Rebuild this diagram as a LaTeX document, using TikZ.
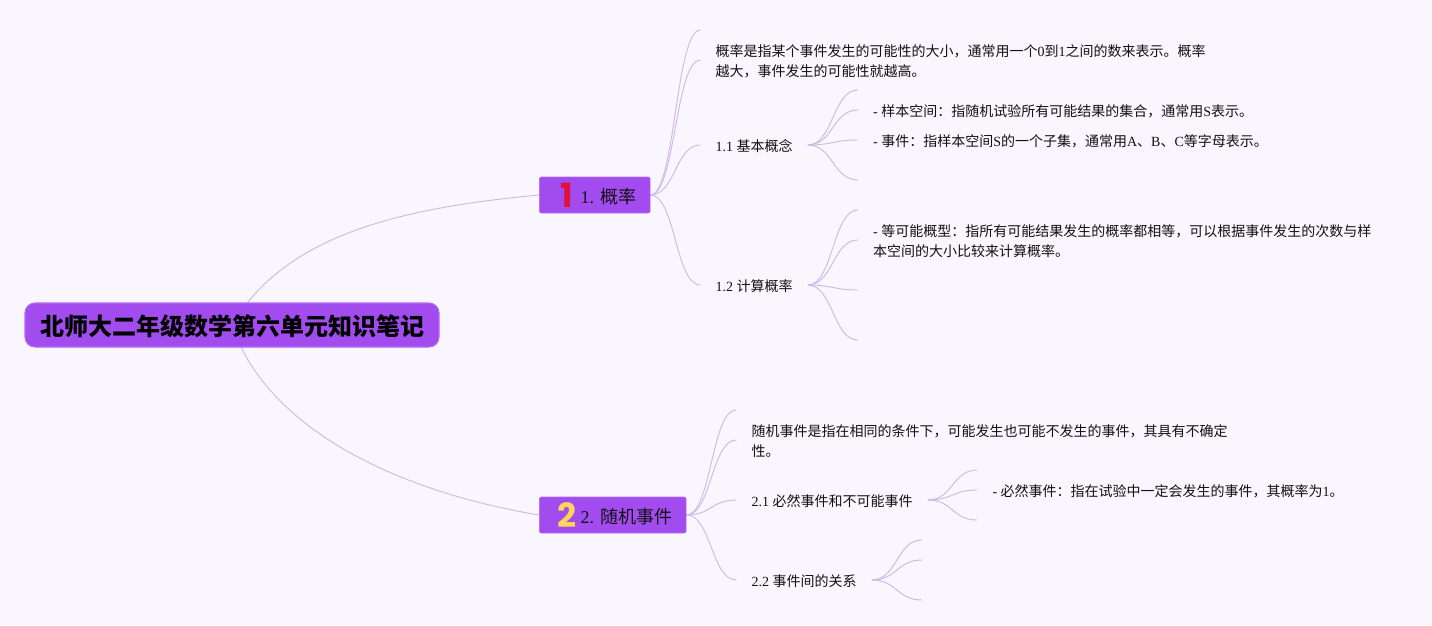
\documentclass[tikz,border=0pt]{standalone}
\usepackage{fontspec}
\setmainfont{Liberation Serif}
\newfontfamily\cjk{Noto Sans CJK SC}
\newfontfamily\iconfont{Poppins}
\usetikzlibrary{positioning, backgrounds}
\definecolor{pagebg}{HTML}{F9F6FE}
\definecolor{mindfill}{HTML}{A24BEE}
\definecolor{mindedge}{HTML}{B26BF2}
\definecolor{mindline}{HTML}{CBBBE4}
\definecolor{inkblack}{HTML}{111111}
\definecolor{iconred}{HTML}{E0123C}
\definecolor{iconyellow}{HTML}{FCD55A}
\newcommand{\zh}[1]{{\cjk #1}}

\begin{document}
\begin{tikzpicture}[
    x=0.75pt, y=-0.75pt,
    % 中心主题
    rootnode/.style={
        rectangle, rounded corners=7.5pt, draw=mindedge, fill=mindfill, thick,
        minimum width=310.5pt, minimum height=33pt, inner sep=0pt,
        align=center, text=black, font=\fontsize{18}{22}\selectfont\bfseries,
        execute at begin node={\rule{0pt}{17.3pt}}
    },
    % 一级主题
    topicnode/.style={
        rectangle, rounded corners=1.5pt, draw=mindedge, fill=mindfill,
        minimum height=27pt, inner xsep=10.5pt, inner ysep=0pt, anchor=west,
        text=inkblack, font=\fontsize{13.5}{16}\selectfont,
        execute at begin node={\rule{0pt}{13.5pt}\hspace*{20.5pt}}
    },
    % 数字图标
    iconnode/.style={
        inner sep=0pt, font=\fontsize{25}{25}\selectfont\iconfont\bfseries
    },
    % 文字节点
    leafnode/.style={
        rectangle, inner xsep=11.25pt, inner ysep=0pt, anchor=west,
        align=left, text=inkblack, font=\fontsize{10.5}{15}\selectfont,
        execute at begin node={\rule{0pt}{11pt}}
    },
    % 分支曲线
    branch/.style={
        mindline, line width=0.7pt,
        to path={.. controls +(25,0) and +(-25,0) .. (\tikztotarget)}
    },
]

% ==================== 中心主题 ====================
\node[rootnode] (root) at (232,325) {\zh{北师大二年级数学第六单元知识笔记}};

% ==================== 1. 概率 ====================
\node[topicnode] (prob) at (539,195) {1. \zh{概率}};
\node[iconnode, text=iconred, right=16pt of prob.west] (iconone) {1};

\coordinate[right=37.5pt of prob.east, yshift=123.75pt] (probtop);
\node[leafnode, right=37.5pt of prob.east, yshift=100.25pt] (probdef) {\zh{概率是指某个事件发生的可能性的大小，通常用一个}0\zh{到}1\zh{之间的数来表示。概率}\\\zh{越大，事件发生的可能性就越高。}};
\node[leafnode, right=37.5pt of prob.east, yshift=37.5pt] (basic) {1.1 \zh{基本概念}};
\node[leafnode, right=37.5pt of prob.east, yshift=-67.5pt] (calc) {1.2 \zh{计算概率}};

% 1.1 子节点
\coordinate[right=37.5pt of basic.east, yshift=41.25pt] (basictop);
\node[leafnode, right=37.5pt of basic.east, yshift=26.25pt] (sample) {- \zh{样本空间：指随机试验所有可能结果的集合，通常用}S\zh{表示。}};
\node[leafnode, right=37.5pt of basic.east, yshift=3.75pt] (event) {- \zh{事件：指样本空间}S\zh{的一个子集，通常用}A\zh{、}B\zh{、}C\zh{等字母表示。}};
\coordinate[right=37.5pt of basic.east, yshift=-26.25pt] (basicend);

% 1.2 子节点
\coordinate[right=37.5pt of calc.east, yshift=56.25pt] (calctop);
\node[leafnode, right=37.5pt of calc.east, yshift=32.75pt] (equal) {- \zh{等可能概型：指所有可能结果发生的概率都相等，可以根据事件发生的次数与样}\\\zh{本空间的大小比较来计算概率。}};
\coordinate[right=37.5pt of calc.east, yshift=-3.75pt] (calcmid);
\coordinate[right=37.5pt of calc.east, yshift=-41.25pt] (calcend);

% ==================== 2. 随机事件 ====================
\node[topicnode] (rand) at (539,515) {2. \zh{随机事件}};
\node[iconnode, text=iconyellow, right=13.5pt of rand.west] (icontwo) {2};

\coordinate[right=37.5pt of rand.east, yshift=78.75pt] (randtop);
\node[leafnode, right=37.5pt of rand.east, yshift=55.25pt] (randdef) {\zh{随机事件是指在相同的条件下，可能发生也可能不发生的事件，其具有不确定}\\\zh{性。}};
\node[leafnode, right=37.5pt of rand.east, yshift=11.25pt] (sure) {2.1 \zh{必然事件和不可能事件}};
\node[leafnode, right=37.5pt of rand.east, yshift=-48.75pt] (relation) {2.2 \zh{事件间的关系}};

% 2.1 子节点
\coordinate[right=37pt of sure.east, yshift=22.5pt] (suretop);
\node[leafnode, right=37pt of sure.east, yshift=7.5pt] (certain) {- \zh{必然事件：指在试验中一定会发生的事件，其概率为}1\zh{。}};
\coordinate[right=37pt of sure.east, yshift=-15pt] (sureend);

% 2.2 子节点
\coordinate[right=37.5pt of relation.east, yshift=30pt] (reltop);
\coordinate[right=37.5pt of relation.east, yshift=15pt] (relmid);
\coordinate[right=37.5pt of relation.east, yshift=-15pt] (relend);

% ==================== 连接线 ====================
\begin{scope}[on background layer]
    \fill[pagebg] (0,0) rectangle (1432,625);

    \draw[mindline, line width=0.7pt] (root.center) .. controls (285,235) and (400,208) .. (prob.west);
    \draw[mindline, line width=0.7pt] (root.center) .. controls (265,425) and (390,490) .. (rand.west);

    \draw[branch] (prob.east) to (probtop);
    \draw[branch] (prob.east) to ([yshift=1pt]probdef.west);
    \draw[branch] (prob.east) to (basic.west);
    \draw[branch] (prob.east) to (calc.west);

    \draw[branch] (basic.east) to (basictop);
    \draw[branch] (basic.east) to (sample.west);
    \draw[branch] (basic.east) to (event.west);
    \draw[branch] (basic.east) to (basicend);

    \draw[branch] (calc.east) to (calctop);
    \draw[branch] (calc.east) to ([yshift=1pt]equal.west);
    \draw[branch] (calc.east) to (calcmid);
    \draw[branch] (calc.east) to (calcend);

    \draw[branch] (rand.east) to (randtop);
    \draw[branch] (rand.east) to ([yshift=1pt]randdef.west);
    \draw[branch] (rand.east) to (sure.west);
    \draw[branch] (rand.east) to (relation.west);

    \draw[branch] (sure.east) to (suretop);
    \draw[branch] (sure.east) to (certain.west);
    \draw[branch] (sure.east) to (sureend);

    \draw[branch] (relation.east) to (reltop);
    \draw[branch] (relation.east) to (relmid);
    \draw[branch] (relation.east) to (relend);
\end{scope}

\end{tikzpicture}
\end{document}
